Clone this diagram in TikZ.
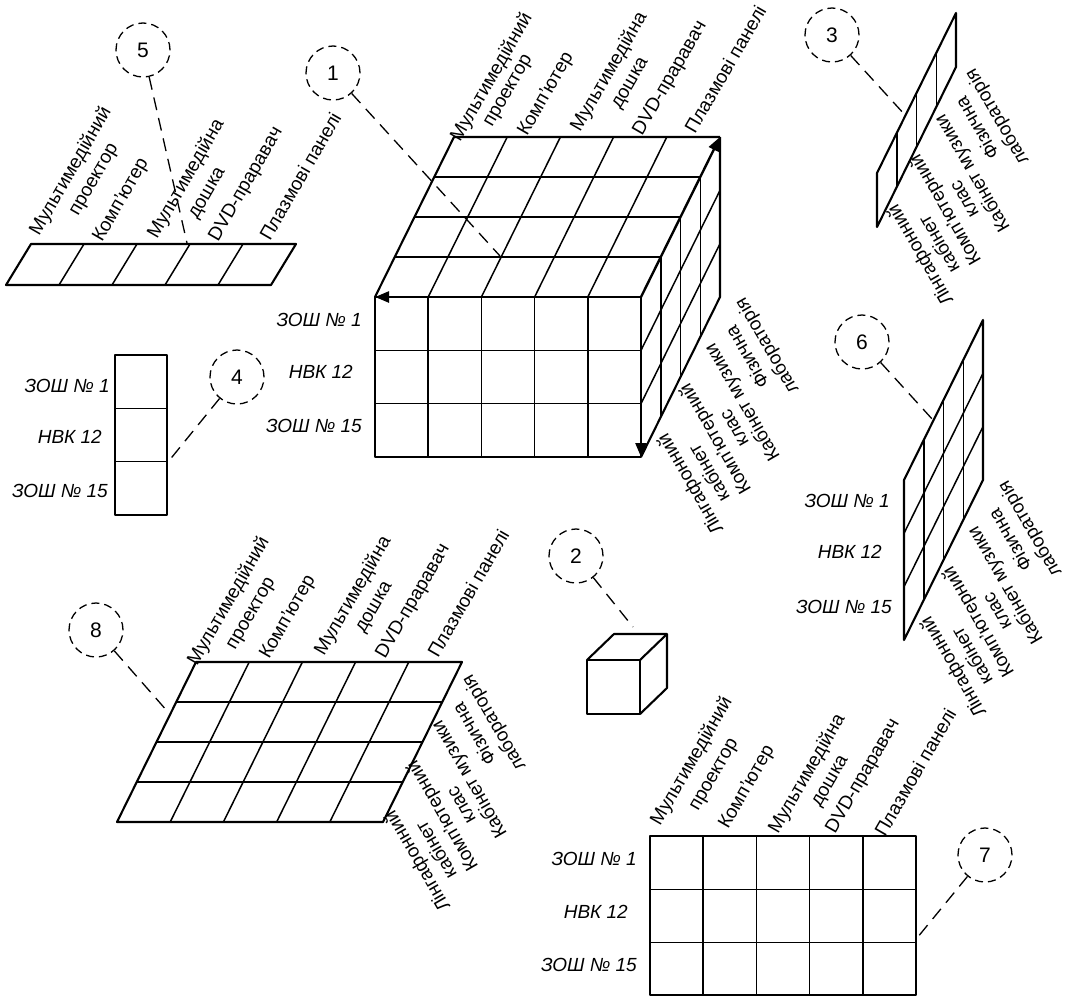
\documentclass[tikz,border=0pt]{standalone}
\usepackage{fontspec}
\setmainfont{Liberation Sans}
\usetikzlibrary{arrows.meta}
\newcommand\toplabels[8]{%
\node[toplab] (#1a) at #2 {Мультимедійний};
\node[toplab] (#1b) at #3 {проектор};
\node[toplab] (#1c) at #4 {Комп’ютер};
\node[toplab] (#1d) at #5 {Мультимедійна};
\node[toplab] (#1e) at #6 {дошка};
\node[toplab] (#1f) at #7 {DVD-праравач};
\node[toplab] (#1g) at #8 {Плазмові панелі};
}
\newcommand\sidelabels[2]{%
\begin{scope}[shift={#2}]
\node[sidelab] (#1a) at (699,479) {Лінгафонний\\кабінет};
\node[sidelab] (#1b) at (724,434) {Комп’ютерний\\клас};
\node[sidelab] (#1c) at (743,402) {Кабінет музики};
\node[sidelab] (#1d) at (758,351) {Фізична\\лабораторія};
\end{scope}
}
\newcommand\rowlabels[4]{%
\node[rowlab] (#1a) at #2 {ЗОШ № 1};
\node[rowlab] (#1b) at #3 {НВК 12};
\node[rowlab] (#1c) at #4 {ЗОШ № 15};
}
\begin{document}
\begin{tikzpicture}[x=1pt,y=-1pt,
  grid/.style={line width=1.5pt, line join=round},
  edge/.style={line width=2.1pt, line join=round},
  axis/.style={line width=2.4pt, -{Triangle[length=14pt,width=11pt]}},
  num/.style={circle, draw, dash pattern=on 8pt off 5pt, line width=1.3pt, minimum size=54pt, inner sep=0pt, font=\fontsize{21}{21}\selectfont},
  leader/.style={line width=1.3pt, dash pattern=on 13pt off 8pt},
  toplab/.style={rotate=60, anchor=base west, inner sep=0pt, font=\fontsize{19}{22}\selectfont},
  sidelab/.style={rotate=120, anchor=center, align=center, inner sep=0pt, font=\fontsize{19}{22}\selectfont},
  rowlab/.style={anchor=east, inner sep=0pt, font=\fontsize{19}{22}\selectfont\itshape},
]
\useasboundingbox (0,0) rectangle (1067,996);

% ---------------- cube 1
\foreach \i in {1,...,4} \draw[grid] ({375+53.2*\i},297) -- ({375+53.2*\i},457);
\foreach \j in {1,2} \draw[grid] (375,{297+53.33*\j}) -- (641,{297+53.33*\j});
\draw[edge] (375,297) rectangle (641,457);
\foreach \i in {1,...,4} \draw[grid] ({375+53.2*\i},297) -- ({454+53.2*\i},137);
\foreach \k in {1,2,3} \draw[grid] ({375+19.75*\k},{297-40*\k}) -- ({641+19.75*\k},{297-40*\k});
\draw[edge] (375,297) -- (454,137) -- (720,137);
\foreach \k in {1,2,3} \draw[grid] ({641+19.75*\k},{297-40*\k}) -- ({641+19.75*\k},{457-40*\k});
\foreach \j in {1,2} \draw[grid] (641,{297+53.33*\j}) -- (720,{137+53.33*\j});
\draw[edge] (641,457) -- (720,297) -- (720,137);
\coordinate (o) at (641,297);
\coordinate (ax) at (375,297);
\coordinate (ay) at (641,457);
\coordinate (az) at (720,137);
\draw[axis] (o) -- (ax);
\draw[axis] (o) -- (ay);
\draw[axis] (o) -- (az);
\toplabels{t1}{(460,143)}{(492,128)}{(527,137)}{(580,133)}{(620,110)}{(642,137)}{(695,135)}
\sidelabels{s1}{(0,0)}
\rowlabels{r1}{(362,320)}{(353,372)}{(362,426)}

% ---------------- panel 8 (top face)
\begin{scope}[shift={(-258,525)}]
\foreach \i in {1,...,4} \draw[grid] ({375+53.2*\i},297) -- ({454+53.2*\i},137);
\foreach \k in {1,2,3} \draw[grid] ({375+19.75*\k},{297-40*\k}) -- ({641+19.75*\k},{297-40*\k});
\draw[edge] (375,297) -- (454,137) -- (720,137) -- (641,297) -- cycle;
\end{scope}
\toplabels{t8}{(197,667)}{(235,651)}{(269,660)}{(324,657)}{(364,634)}{(385,660)}{(438,659)}
\sidelabels{s8}{(-273,377)}

% ---------------- panel 7 (front face)
\begin{scope}[shift={(275,539)}]
\foreach \i in {1,...,4} \draw[grid] ({375+53.2*\i},297) -- ({375+53.2*\i},456);
\foreach \j in {1,2} \draw[grid] (375,{297+53.33*\j}) -- (641,{297+53.33*\j});
\draw[edge] (375,297) rectangle (641,456);
\end{scope}
\toplabels{t7}{(660,827)}{(698,812)}{(728,830)}{(778,835)}{(820,808)}{(835,835)}{(885,838)}
\rowlabels{r7}{(637,859)}{(628,912)}{(637,965)}

% ---------------- panel 6 (side face)
\begin{scope}[shift={(263,183)}]
\foreach \k in {1,2,3} \draw[grid] ({641+19.75*\k},{297-40*\k}) -- ({641+19.75*\k},{457-40*\k});
\foreach \j in {1,2} \draw[grid] (641,{297+53.33*\j}) -- (720,{137+53.33*\j});
\draw[edge] (641,297) -- (720,137) -- (720,297) -- (641,457) -- cycle;
\end{scope}
\sidelabels{s6}{(263,183)}
\rowlabels{r6}{(890,501)}{(882,552)}{(892,607)}

% ---------------- panel 3 (side strip)
\begin{scope}[shift={(236,-230)}]
\foreach \k in {1,2,3} \draw[grid] ({641+19.75*\k},{403-40*\k}) -- ({641+19.75*\k},{457-40*\k});
\draw[edge] (641,403) -- (720,243) -- (720,297) -- (641,457) -- cycle;
\end{scope}
\sidelabels{s3}{(230,-229)}

% ---------------- panel 5 (top strip)
\foreach \i in {1,...,4} \draw[grid] ({6+53*\i},285) -- ({31+53*\i},244);
\draw[edge] (6,285) -- (31,244) -- (296,244) -- (271,285) -- cycle;
\toplabels{t5}{(39,237)}{(78,217)}{(102,243)}{(157,240)}{(197,220)}{(218,243)}{(270,242)}

% ---------------- panel 4 (front column)
\foreach \j in {1,2} \draw[grid] (115,{355+53.33*\j}) -- (167,{355+53.33*\j});
\draw[edge] (115,355) rectangle (167,515);
\rowlabels{r4}{(110,386)}{(102,437)}{(108,491)}

% ---------------- cube 2
\draw[edge] (587,660) rectangle (640,714);
\draw[edge] (587,660) -- (614,634) -- (667,634) -- (667,688) -- (640,714);
\draw[edge] (640,660) -- (667,634);

% ---------------- numbered circles and leaders
\node[num] (c1) at (333,73) {1};
\node[num] (c2) at (576,556) {2};
\node[num] (c3) at (832,35) {3};
\node[num] (c4) at (237,377) {4};
\node[num] (c5) at (143,50) {5};
\node[num] (c6) at (862,342) {6};
\node[num] (c7) at (985,855) {7};
\node[num] (c8) at (96,630) {8};
\coordinate (e1) at (500,256);
\coordinate (e2) at (633,627);
\coordinate (e3) at (905,115);
\coordinate (e4) at (168,462);
\coordinate (e5) at (187,243);
\coordinate (e6) at (933,420);
\coordinate (e7) at (917,938);
\coordinate (e8) at (168,712);
\foreach \n in {1,...,8} \draw[leader] (c\n) -- (e\n);
\end{tikzpicture}
\end{document}
